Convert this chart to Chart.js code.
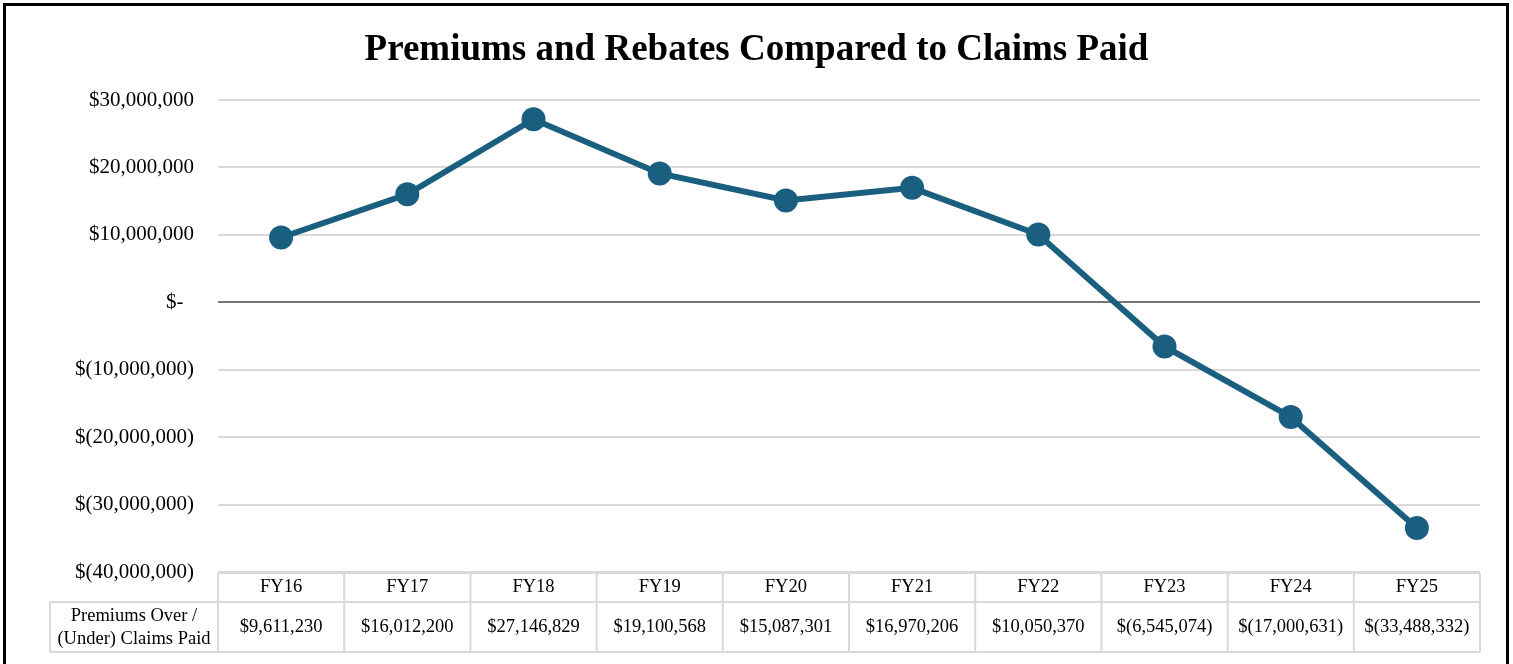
<!DOCTYPE html>
<html>
<head>
<meta charset="utf-8">
<script src="https://cdn.jsdelivr.net/npm/chart.js@4"></script>
<style>
	body { margin: 0; background: #fff; }
	#wrap { position: relative; width: 1513px; height: 664px; overflow: hidden; }
	#frame { position: absolute; left: 3px; top: 3px; width: 1500px; height: 700px; border: 3px solid #000; pointer-events: none; }
</style>
</head>
<body>
<div id="wrap">
	<canvas id="premiumsChart" width="1513" height="664"></canvas>
	<div id="frame"></div>
</div>
<script>
var fiscalYears = ['FY16', 'FY17', 'FY18', 'FY19', 'FY20', 'FY21', 'FY22', 'FY23', 'FY24', 'FY25'];
var premiumsOverClaims = [9611230, 16012200, 27146829, 19100568, 15087301, 16970206, 10050370, -6545074, -17000631, -33488332];
var seriesLabel = ['Premiums Over /', '(Under) Claims Paid'];
var yMin = -40000000, yMax = 30000000, yStep = 10000000;

var serif = "'Liberation Serif', 'Times New Roman', serif";
var lineColor = '#1a5f80';
var gridColor = '#d9d9d9';

function money(v){
	if (v == 0) return '$-  ';
	var s = Math.abs(v).toLocaleString('en-US');
	return v < 0 ? '$(' + s + ')' : '$' + s;
}

// draws the excel-like data table under the plot
var dataTablePlugin = {
	id: 'dataTable',
	afterDraw: function(chart){
		const ctx = chart.ctx;
		const area = chart.chartArea;
		const xs = chart.scales.x;
		const colW = area.width / fiscalYears.length;
		const headTop = area.bottom + 1, headBottom = headTop + 29, rowBottom = headBottom + 50;
		const labelLeft = 50;

		ctx.save();
		ctx.strokeStyle = gridColor;
		ctx.lineWidth = 2;
		ctx.beginPath();
		ctx.moveTo(area.left, headTop); ctx.lineTo(area.right, headTop);
		ctx.moveTo(labelLeft, headBottom); ctx.lineTo(area.right, headBottom);
		ctx.moveTo(labelLeft, rowBottom); ctx.lineTo(area.right, rowBottom);
		ctx.moveTo(labelLeft, headBottom); ctx.lineTo(labelLeft, rowBottom);
		for (let i = 0; i <= fiscalYears.length; i++){
			const x = area.left + i * colW;
			ctx.moveTo(x, headTop); ctx.lineTo(x, rowBottom);
		}
		ctx.stroke();

		ctx.fillStyle = '#000';
		ctx.textAlign = 'center';
		ctx.textBaseline = 'middle';
		ctx.font = '18.5px ' + serif;
		fiscalYears.forEach(function(fy, i){
			const x = xs.getPixelForValue(i);
			ctx.fillText(fy, x, (headTop + headBottom) / 2);
			ctx.fillText(money(premiumsOverClaims[i]), x, (headBottom + rowBottom) / 2);
		});
		const lx = (labelLeft + area.left) / 2;
		ctx.fillText(seriesLabel[0], lx, (headBottom + rowBottom) / 2 - 11);
		ctx.fillText(seriesLabel[1], lx, (headBottom + rowBottom) / 2 + 12);
		ctx.restore();
	}
};

new Chart(document.getElementById('premiumsChart'), {
	type: 'line',
	data: {
		labels: fiscalYears,
		datasets: [{
			label: 'Premiums Over / (Under) Claims Paid',
			data: premiumsOverClaims,
			borderColor: lineColor,
			backgroundColor: lineColor,
			borderWidth: 6,
			pointRadius: 12,
			pointHoverRadius: 12,
			pointBorderWidth: 0,
			tension: 0
		}]
	},
	options: {
		responsive: false,
		animation: false,
		layout: { padding: { left: 33, right: 33, top: 0, bottom: 92 } },
		plugins: {
			legend: { display: false },
			tooltip: { enabled: false },
			title: {
				display: true,
				text: 'Premiums and Rebates Compared to Claims Paid',
				color: '#000',
				font: { family: serif, size: 37, weight: 'bold', lineHeight: 1.2 },
				padding: { top: 28, bottom: 27.6 }
			}
		},
		scales: {
			x: {
				display: false,
				offset: true
			},
			y: {
				min: yMin,
				max: yMax,
				border: { display: false },
				grid: {
					drawTicks: false,
					lineWidth: 2,
					color: function(c){ return c.tick && c.tick.value === 0 ? '#767676' : gridColor; }
				},
				ticks: {
					stepSize: yStep,
					padding: 24,
					color: '#000',
					font: { family: serif, size: 21 },
					callback: function(v){ return money(v); }
				},
				afterFit: function(scale){ scale.width = 185; }
			}
		}
	},
	plugins: [dataTablePlugin]
});
</script>
</body>
</html>
